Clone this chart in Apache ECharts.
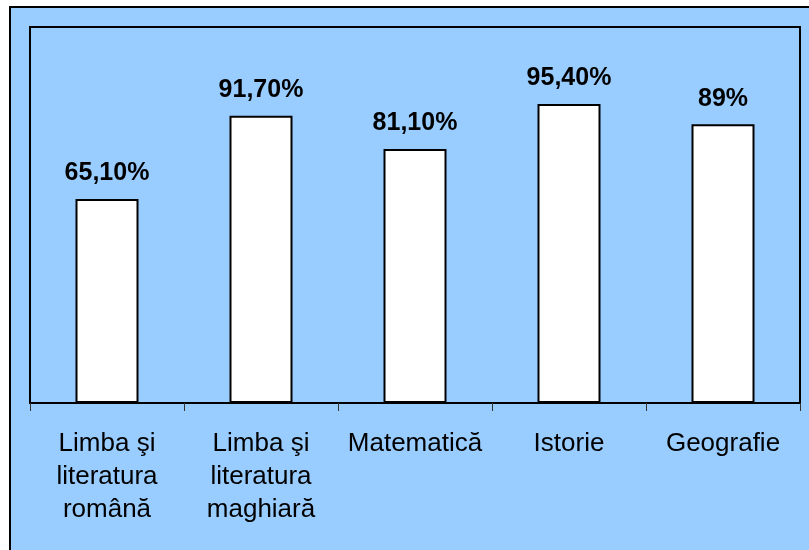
<!DOCTYPE html>
<html>
<head>
<meta charset="utf-8">
<script src="https://cdn.jsdelivr.net/npm/echarts@6/dist/echarts.min.js"></script>
<style>
  html, body { margin: 0; padding: 0; background: #ffffff; }
  #chart { width: 809px; height: 550px; }
</style>
</head>
<body>
<div id="chart"></div>
<script>
// Subjects shown along the horizontal axis
const categories = [
  'Limba şi\nliteratura\nromână',
  'Limba şi\nliteratura\nmaghiară',
  'Matematică',
  'Istorie',
  'Geografie'
];

// Pass rate per subject (%)
const passRates = [65.1, 91.7, 81.1, 95.4, 89];

// Value label: whole numbers plain, others with two decimals and a comma
function formatPercent(v) {
  if (Number.isInteger(v)) return v + '%';
  return v.toFixed(2).replace('.', ',') + '%';
}

const chart = echarts.init(document.getElementById('chart'), null, { renderer: 'canvas' });

chart.setOption({
  backgroundColor: '#ffffff',
  animation: false,
  textStyle: { fontFamily: '"Liberation Sans", Arial, sans-serif' },
  graphic: [{
    type: 'rect',
    z: -10,
    silent: true,
    shape: { x: 10, y: 7, width: 830, height: 580 },
    style: { fill: '#99CCFF', stroke: '#000000', lineWidth: 2 }
  }],
  grid: {
    left: 30,
    top: 27,
    right: 9,
    bottom: 147,
    show: true,
    backgroundColor: '#99CCFF',
    borderColor: '#000000',
    borderWidth: 2
  },
  xAxis: {
    type: 'category',
    data: categories,
    boundaryGap: true,
    axisLine: { show: true, lineStyle: { color: '#000000', width: 2 } },
    axisTick: { show: true, length: 8, lineStyle: { color: '#333333', width: 1 } },
    axisLabel: {
      interval: 0,
      margin: 24,
      color: '#000000',
      fontSize: 26,
      lineHeight: 33,
      fontFamily: '"Liberation Sans", Arial, sans-serif',
      align: 'center'
    }
  },
  yAxis: {
    type: 'value',
    min: 0,
    max: 120,
    show: false
  },
  series: [{
    type: 'bar',
    data: passRates,
    barWidth: 63,
    itemStyle: { color: '#ffffff', borderColor: '#000000', borderWidth: 2 },
    label: {
      show: true,
      position: 'top',
      distance: 13,
      color: '#000000',
      fontSize: 25,
      fontWeight: 'bold',
      fontFamily: '"Liberation Sans", Arial, sans-serif',
      formatter: p => formatPercent(p.value)
    }
  }]
});
</script>
</body>
</html>
